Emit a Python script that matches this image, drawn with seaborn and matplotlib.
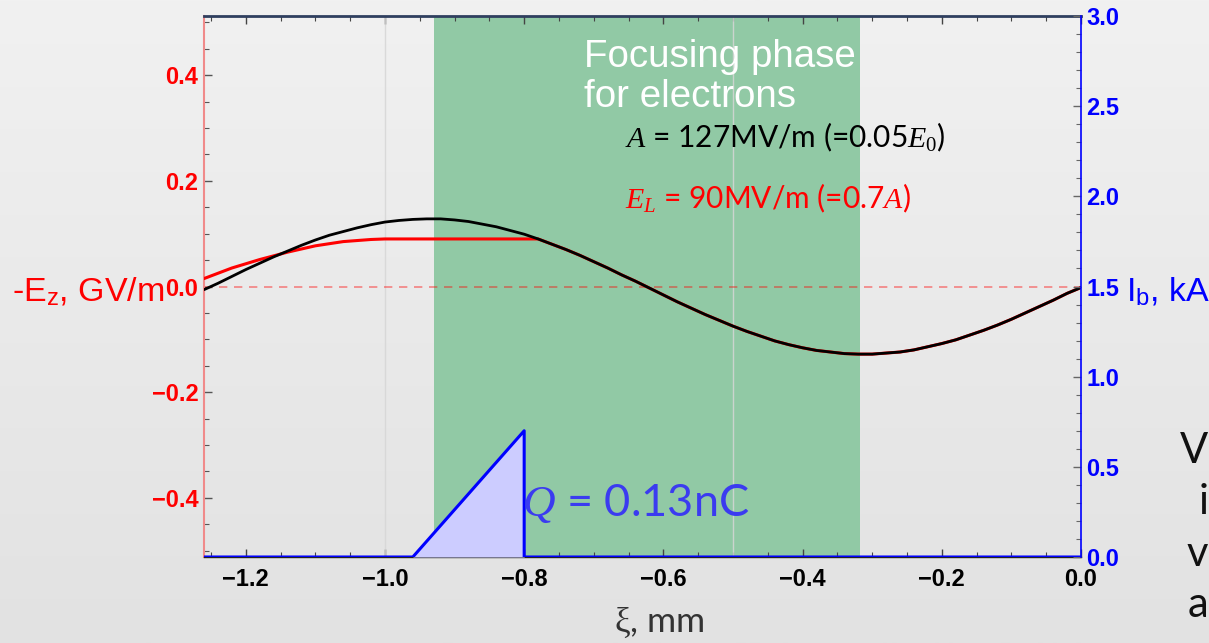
import numpy as np
import matplotlib
matplotlib.use("Agg")
import matplotlib.pyplot as plt
import seaborn as sns
from matplotlib.ticker import MultipleLocator

# ---------------- data ----------------
xi_wake = [-1.26, -1.24, -1.22, -1.20, -1.18, -1.16, -1.14, -1.12, -1.10, -1.08,
           -1.06, -1.04, -1.02, -1.00, -0.98, -0.96, -0.94, -0.92, -0.90, -0.88,
           -0.86, -0.84, -0.82, -0.80, -0.78, -0.76, -0.74, -0.72, -0.70, -0.68,
           -0.66, -0.64, -0.62, -0.60, -0.58, -0.56, -0.54, -0.52, -0.50, -0.48,
           -0.46, -0.44, -0.42, -0.40, -0.38, -0.36, -0.34, -0.32, -0.30, -0.28,
           -0.26, -0.24, -0.22, -0.20, -0.18, -0.16, -0.14, -0.12, -0.10, -0.08,
           -0.06, -0.04, -0.02, 0.0]
ez_wake = [-0.006, 0.006, 0.019, 0.032, 0.044, 0.056, 0.067, 0.078, 0.088, 0.097,
           0.104, 0.111, 0.117, 0.122, 0.125, 0.127, 0.128, 0.128, 0.126, 0.123,
           0.118, 0.113, 0.106, 0.099, 0.090, 0.080, 0.070, 0.059, 0.047, 0.035,
           0.022, 0.010, -0.003, -0.016, -0.029, -0.041, -0.053, -0.064, -0.075, -0.085,
           -0.094, -0.103, -0.110, -0.116, -0.121, -0.124, -0.127, -0.128, -0.128, -0.126,
           -0.124, -0.120, -0.114, -0.108, -0.101, -0.092, -0.083, -0.073, -0.062, -0.050,
           -0.038, -0.026, -0.013, -0.002]

xi_loaded = [-1.26, -1.24, -1.22, -1.20, -1.18, -1.16, -1.14, -1.12, -1.10, -1.08,
             -1.06, -1.04, -1.02, -1.00, -0.98, -0.90, -0.80, -0.785, -0.78, -0.76,
             -0.74, -0.72, -0.70, -0.68, -0.66, -0.64, -0.62, -0.60, -0.58, -0.56,
             -0.54, -0.52, -0.50, -0.48, -0.46, -0.44, -0.42, -0.40, -0.38, -0.36,
             -0.34, -0.32, -0.30, -0.28, -0.26, -0.24, -0.22, -0.20, -0.18, -0.16,
             -0.14, -0.12, -0.10, -0.08, -0.06, -0.04, -0.02, 0.0]
ez_loaded = [0.015, 0.025, 0.035, 0.043, 0.051, 0.058, 0.065, 0.071, 0.077, 0.081,
             0.085, 0.087, 0.089, 0.090, 0.090, 0.090, 0.090, 0.090, 0.090, 0.080,
             0.070, 0.059, 0.047, 0.035, 0.022, 0.010, -0.003, -0.016, -0.029, -0.041,
             -0.053, -0.064, -0.075, -0.085, -0.094, -0.103, -0.110, -0.116, -0.121, -0.124,
             -0.127, -0.128, -0.128, -0.126, -0.124, -0.120, -0.114, -0.108, -0.101, -0.092,
             -0.083, -0.073, -0.062, -0.050, -0.038, -0.026, -0.013, -0.002]

xi_beam = [-1.26, -0.96, -0.80, -0.80, 0.0]
ib_beam = [0.0, 0.0, 0.70, 0.0, 0.0]

focus_phase = [-0.930, -0.318]
grid_xi = [-1.0, -0.5]

x_ticks = [-1.2, -1.0, -0.8, -0.6, -0.4, -0.2, 0.0]
x_tick_labels = ['\u22121.2', '\u22121.0', '\u22120.8', '\u22120.6', '\u22120.4', '\u22120.2', '0.0']
ez_ticks = [-0.4, -0.2, 0.0, 0.2, 0.4]
ez_tick_labels = ['\u22120.4', '\u22120.2', '0.0', '0.2', '0.4']
ib_ticks = [0.0, 0.5, 1.0, 1.5, 2.0, 2.5, 3.0]
ib_tick_labels = ['0.0', '0.5', '1.0', '1.5', '2.0', '2.5', '3.0']

# ---------------- style ----------------
sns.set_style("white")
plt.rcParams['font.family'] = ['Liberation Sans', 'DejaVu Sans']
plt.rcParams['mathtext.fontset'] = 'custom'
plt.rcParams['mathtext.rm'] = 'Liberation Serif'
plt.rcParams['mathtext.it'] = 'Liberation Serif:italic'
plt.rcParams['mathtext.sf'] = 'Liberation Sans'

W, H = 1209, 643
fig = plt.figure(figsize=(W / 100, H / 100), dpi=100)

# background gradient (slide background)
bg = fig.add_axes([0, 0, 1, 1], zorder=-10)
g = np.linspace(241, 226, 256) / 255.0
bg.imshow(np.dstack([g[:, None]] * 3), aspect='auto', extent=[0, 1, 0, 1])
bg.set_xlim(0, 1); bg.set_ylim(0, 1)
bg.axis('off')

L, R, T, B = 204, 1081, 16, 557
ax = fig.add_axes([L / W, 1 - B / H, (R - L) / W, (B - T) / H])
ax.set_facecolor('none')
ax2 = ax.twinx()
ax2.set_facecolor('none')

# focusing region and grid lines
ax.axvspan(focus_phase[0], focus_phase[1], color='#91c9a5', lw=0, zorder=0.5)
for gx in grid_xi:
    ax.axvline(gx, color='#d6d6d6', lw=1.0, alpha=0.85, zorder=0.8)
ax.axhline(0, color='#ff0000', alpha=0.45, lw=1.2, ls=(0, (5, 4)), zorder=1)

sns.lineplot(x=xi_loaded, y=ez_loaded, ax=ax, color='#ff0000', lw=2.2,
             sort=False, estimator=None, zorder=3)
sns.lineplot(x=xi_wake, y=ez_wake, ax=ax, color='black', lw=2.0,
             sort=False, estimator=None, zorder=4)

ax2.fill_between(xi_beam, ib_beam, 0, color='#ccccff', lw=0, zorder=2)
sns.lineplot(x=xi_beam, y=ib_beam, ax=ax2, color='#0000ff', lw=2.2,
             sort=False, estimator=None, zorder=3)

ax.set_xlim(-1.26, 0.0)
ax.set_ylim(-0.512, 0.512)
ax2.set_ylim(0, 3.0)
ax.set_xlabel(''); ax.set_ylabel(''); ax2.set_ylabel('')

# ticks
tick_kw = dict(fontsize=17, fontweight='bold', family='Liberation Sans')
ax.set_xticks(x_ticks)
ax.set_xticklabels(x_tick_labels, color='black', **tick_kw)
ax.set_yticks(ez_ticks)
ax.set_yticklabels(ez_tick_labels, color='#ff0000', **tick_kw)
ax2.set_yticks(ib_ticks)
ax2.set_yticklabels(ib_tick_labels, color='#0000ff', **tick_kw)
ax.xaxis.set_minor_locator(MultipleLocator(0.05))
ax.yaxis.set_minor_locator(MultipleLocator(0.05))
ax2.yaxis.set_minor_locator(MultipleLocator(0.1))

ax.tick_params(axis='x', which='both', direction='in', top=True, bottom=True,
               color='#444444', pad=8)
ax.tick_params(axis='x', which='major', length=6, width=1)
ax.tick_params(axis='x', which='minor', length=3.5, width=0.8)
ax.tick_params(axis='y', which='both', direction='in', left=True, color='#555555', pad=4)
ax.tick_params(axis='y', which='major', length=6, width=1)
ax.tick_params(axis='y', which='minor', length=3.5, width=0.8)
ax2.tick_params(axis='y', which='both', direction='in', right=True, color='#666666', pad=4)
ax2.tick_params(axis='y', which='major', length=6, width=1)
ax2.tick_params(axis='y', which='minor', length=3.5, width=0.8)

# spines
for s in ax.spines.values():
    s.set_visible(True)
ax.spines['left'].set_color('#f08a8a'); ax.spines['left'].set_linewidth(1.5)
ax.spines['top'].set_color('#2f3f5f'); ax.spines['top'].set_linewidth(2.0)
ax.spines['bottom'].set_color('#222222'); ax.spines['bottom'].set_linewidth(1.0)
ax.spines['right'].set_visible(False)
for k in ['left', 'top', 'bottom']:
    ax2.spines[k].set_visible(False)
ax2.spines['right'].set_visible(True)
ax2.spines['right'].set_color('#0000ff'); ax2.spines['right'].set_linewidth(1.2)

def ftext(x, y, s, **kw):
    fig.text(x / W, 1 - y / H, s, va='baseline', **kw)

# axis labels
ftext(12, 301, r'-E$_\mathsf{z}$, GV/m', color='#ff0000', size=24.5,
      family='Liberation Sans')
ftext(1126, 301, r'I$_\mathsf{b}$, kA', color='#0000ff', size=24.5,
      family='Liberation Sans')
ftext(614, 632, r'$\mathrm{\xi}$, mm', color='#333333', size=25.5,
      family=['Lato', 'DejaVu Sans'])

# annotations
ftext(584, 67, 'Focusing phase', color='white', size=27.7, family='Liberation Sans')
ftext(584, 107, 'for electrons', color='white', size=27.7, family='Liberation Sans')
ftext(625, 147, r'$A$ = 127MV/m (=0.05$E_0$)', color='black', size=21.5,
      family=['Lato', 'DejaVu Sans'])
ftext(625, 208, r'$E_L$ = 90MV/m (=0.7$A$)', color='#ff0000', size=21.5,
      family=['Lato', 'DejaVu Sans'])
ftext(522, 516, r'$Q$ = 0.13nC', color='#3b3bf0', size=32.5,
      family=['Lato', 'DejaVu Sans'])

# slide text at the right edge (kept inside the figure)
ftext(1208, 463, 'V', color='#111111', size=30, ha='right', family=['Lato', 'DejaVu Sans'])
ftext(1199, 514, 'i', color='#111111', size=30, ha='left', family=['Lato', 'DejaVu Sans'])
ftext(1208, 566, 'v', color='#111111', size=30, ha='right', family=['Lato', 'DejaVu Sans'])
ftext(1208, 617, 'a', color='#111111', size=30, ha='right', family=['Lato', 'DejaVu Sans'])

fig.savefig('out.png', dpi=100)
